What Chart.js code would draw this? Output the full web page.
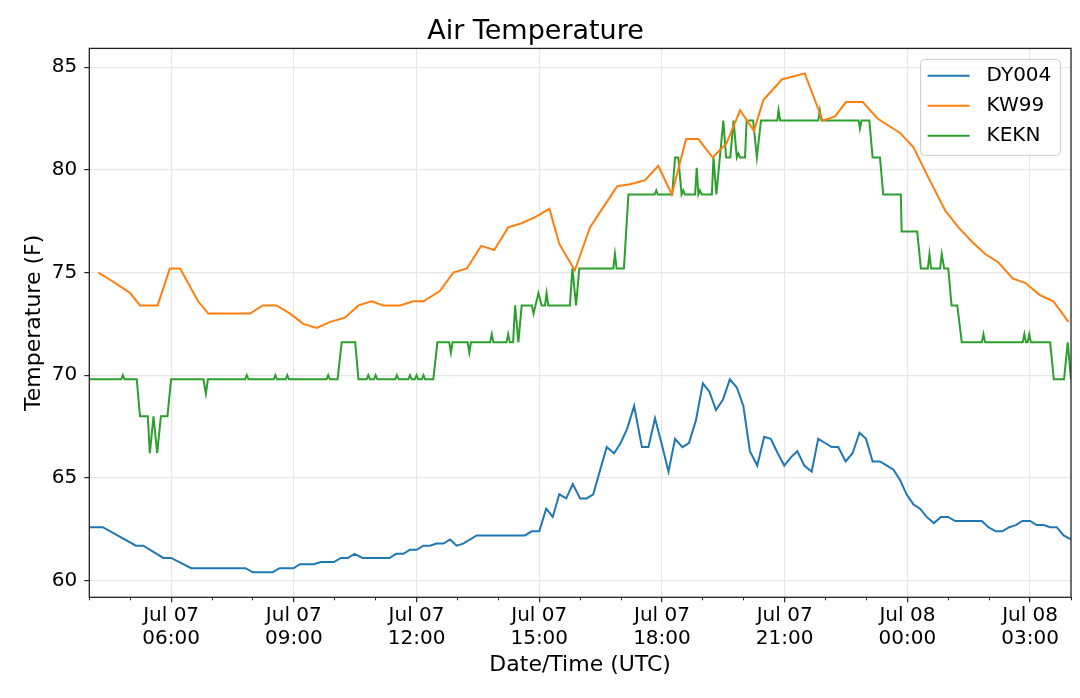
<!DOCTYPE html>
<html>
<head>
<meta charset="utf-8">
<title>Air Temperature</title>
<script src="https://cdn.jsdelivr.net/npm/chart.js@4.4.1/dist/chart.umd.min.js"></script>
<style>
  html, body { margin: 0; padding: 0; background: #fff; }
  #wrap { width: 1080px; height: 698px; position: relative; }
</style>
</head>
<body>
<div id="wrap"><canvas id="chart"></canvas></div>
<script>
/* ===== Air Temperature: DY004 / KW99 / KEKN ===== */

// time = hours since Jul 07 00:00 UTC, temperature in F
const dyHours = [4.0, 4.33, 5.14, 5.32, 5.81, 6.0, 6.49, 7.82, 8.0, 8.48, 8.65, 8.99, 9.15, 9.49, 9.66, 9.98,
  10.15, 10.32, 10.48, 10.68, 11.34, 11.5, 11.68, 11.84, 12.0, 12.17, 12.33, 12.49, 12.66, 12.82, 12.98, 13.14,
  13.47, 14.65, 14.82, 15.0, 15.17, 15.33, 15.49, 15.66, 15.82, 16.0, 16.16, 16.32, 16.49, 16.65, 16.83, 16.99,
  17.15, 17.32, 17.51, 17.67, 17.83, 18.0, 18.16, 18.32, 18.5, 18.66, 18.83, 19.0, 19.16, 19.32, 19.49, 19.66,
  19.83, 19.99, 20.15, 20.33, 20.5, 20.66, 20.83, 20.99, 21.15, 21.31, 21.48, 21.66, 21.82, 21.99, 22.15, 22.31,
  22.49, 22.66, 22.83, 22.99, 23.15, 23.33, 23.5, 23.66, 23.82, 23.98, 24.15, 24.31, 24.47, 24.65, 24.82, 24.99,
  25.17, 25.82, 25.98, 26.16, 26.32, 26.49, 26.65, 26.81, 27.0, 27.16, 27.33, 27.49, 27.65, 27.82, 28.0];
const dyTemps = [62.6, 62.6, 61.7, 61.7, 61.1, 61.1, 60.6, 60.6, 60.4, 60.4, 60.6, 60.6, 60.8, 60.8, 60.9, 60.9,
  61.1, 61.1, 61.3, 61.1, 61.1, 61.3, 61.3, 61.5, 61.5, 61.7, 61.7, 61.8, 61.8, 62.0, 61.7, 61.8,
  62.2, 62.2, 62.4, 62.4, 63.5, 63.1, 64.2, 64.0, 64.7, 64.0, 64.0, 64.2, 65.4, 66.5, 66.2, 66.7,
  67.4, 68.5, 66.5, 66.5, 67.9, 66.6, 65.3, 66.9, 66.5, 66.7, 67.8, 69.6, 69.2, 68.3, 68.8, 69.8,
  69.4, 68.5, 66.3, 65.6, 67.0, 66.9, 66.2, 65.6, 66.0, 66.3, 65.6, 65.3, 66.9, 66.7, 66.5, 66.5,
  65.8, 66.2, 67.2, 66.9, 65.8, 65.8, 65.6, 65.4, 64.9, 64.2, 63.7, 63.5, 63.1, 62.8, 63.1, 63.1,
  62.9, 62.9, 62.6, 62.4, 62.4, 62.6, 62.7, 62.9, 62.9, 62.7, 62.7, 62.6, 62.6, 62.2, 62.0];

const kwHours = [4.22, 4.55, 5.0, 5.24, 5.67, 5.97, 6.22, 6.66, 6.91, 7.93, 8.24, 8.58, 8.91, 9.23, 9.56, 9.89,
  10.25, 10.58, 10.9, 11.19, 11.6, 11.92, 12.17, 12.57, 12.9, 13.23, 13.58, 13.9, 14.24, 14.57, 14.9, 15.25,
  15.49, 15.87, 16.24, 16.57, 16.91, 17.22, 17.59, 17.91, 18.24, 18.59, 18.89, 19.24, 19.58, 19.91, 20.25, 20.48,
  20.93, 21.49, 21.93, 22.23, 22.5, 22.91, 23.27, 23.82, 24.15, 24.52, 24.93, 25.25, 25.58, 25.9, 26.22, 26.58,
  26.88, 27.24, 27.57, 27.94];
const kwTemps = [75.0, 74.6, 74.0, 73.4, 73.4, 75.2, 75.2, 73.6, 73.0, 73.0, 73.4, 73.4, 73.0, 72.5, 72.3, 72.6,
  72.8, 73.4, 73.6, 73.4, 73.4, 73.6, 73.6, 74.1, 75.0, 75.2, 76.3, 76.1, 77.2, 77.4, 77.7, 78.1,
  76.4, 75.1, 77.2, 78.2, 79.2, 79.3, 79.5, 80.2, 78.8, 81.5, 81.5, 80.6, 81.3, 82.9, 81.9, 83.4,
  84.4, 84.7, 82.4, 82.6, 83.3, 83.3, 82.5, 81.8, 81.1, 79.6, 78.0, 77.2, 76.5, 75.9, 75.5, 74.7,
  74.5, 73.9, 73.6, 72.6];

const keknHours = [4.0, 4.78, 4.82, 4.86, 5.16, 5.24, 5.43, 5.48, 5.57, 5.66, 5.75, 5.91, 6.0, 6.79, 6.85, 6.9,
  7.81, 7.85, 7.89, 8.51, 8.55, 8.59, 8.8, 8.84, 8.88, 9.8, 9.84, 9.88, 10.07, 10.17, 10.5, 10.58,
  10.78, 10.82, 10.86, 10.96, 11.0, 11.04, 11.48, 11.52, 11.56, 11.8, 11.84, 11.88, 11.96, 12.0, 12.04, 12.13,
  12.17, 12.21, 12.41, 12.51, 12.8, 12.84, 12.88, 13.25, 13.29, 13.33, 13.8, 13.84, 13.88, 14.2, 14.24, 14.28,
  14.36, 14.41, 14.49, 14.57, 14.82, 14.86, 14.98, 15.06, 15.14, 15.18, 15.22, 15.75, 15.81, 15.9, 15.98, 16.81,
  16.85, 16.89, 17.07, 17.18, 17.82, 17.86, 17.9, 18.25, 18.32, 18.4, 18.48, 18.52, 18.56, 18.81, 18.85, 18.89,
  18.93, 18.97, 19.22, 19.26, 19.33, 19.5, 19.57, 19.67, 19.75, 19.83, 19.87, 19.91, 20.03, 20.07, 20.23, 20.32,
  20.42, 20.82, 20.85, 20.89, 21.82, 21.86, 21.9, 22.81, 22.84, 22.88, 23.07, 23.15, 23.33, 23.41, 23.84, 23.86,
  24.24, 24.33, 24.5, 24.54, 24.58, 24.8, 24.84, 24.9, 25.0, 25.08, 25.22, 25.33, 25.82, 25.86, 25.9, 26.82,
  26.86, 26.9, 26.94, 26.98, 27.02, 27.49, 27.58, 27.83, 27.92, 28.0];
const keknTemps = [69.8, 69.8, 70.0, 69.8, 69.8, 68.0, 68.0, 66.2, 68.0, 66.2, 68.0, 68.0, 69.8, 69.8, 69.1, 69.8,
  69.8, 70.0, 69.8, 69.8, 70.0, 69.8, 69.8, 70.0, 69.8, 69.8, 70.0, 69.8, 69.8, 71.6, 71.6, 69.8,
  69.8, 70.0, 69.8, 69.8, 70.0, 69.8, 69.8, 70.0, 69.8, 69.8, 70.0, 69.8, 69.8, 70.0, 69.8, 69.8,
  70.0, 69.8, 69.8, 71.6, 71.6, 71.1, 71.6, 71.6, 71.1, 71.6, 71.6, 72.0, 71.6, 71.6, 72.0, 71.6,
  71.6, 73.4, 71.6, 73.4, 73.4, 73.0, 74.0, 73.4, 73.4, 74.0, 73.4, 73.4, 75.2, 73.4, 75.2, 75.2,
  75.9, 75.2, 75.2, 78.8, 78.8, 79.0, 78.8, 78.8, 80.6, 80.6, 78.8, 79.0, 78.8, 78.8, 80.1, 78.8,
  79.0, 78.8, 78.8, 80.6, 78.8, 82.4, 80.6, 80.6, 82.4, 80.6, 80.8, 80.6, 80.6, 82.4, 82.4, 80.6,
  82.4, 82.4, 82.9, 82.4, 82.4, 82.9, 82.4, 82.4, 82.0, 82.4, 82.4, 80.6, 80.6, 78.8, 78.8, 77.0,
  77.0, 75.2, 75.2, 75.9, 75.2, 75.2, 75.9, 75.2, 75.2, 73.4, 73.4, 71.6, 71.6, 72.0, 71.6, 71.6,
  72.0, 71.6, 71.6, 72.0, 71.6, 71.6, 69.8, 69.8, 71.6, 69.8];

const stations = ["DY004", "KW99", "KEKN"];
const stationColors = ["#1f77b4", "#ff7f0e", "#2ca02c"];

const hourTicks = [6, 9, 12, 15, 18, 21, 24, 27];
const hourTickLabels = [["Jul 07", "06:00"], ["Jul 07", "09:00"], ["Jul 07", "12:00"], ["Jul 07", "15:00"],
  ["Jul 07", "18:00"], ["Jul 07", "21:00"], ["Jul 08", "00:00"], ["Jul 08", "03:00"]];
const minorHours = [4, 5, 7, 8, 10, 11, 13, 14, 16, 17, 19, 20, 22, 23, 25, 26, 28];
const tempTicks = [60, 65, 70, 75, 80, 85];
const xMin = 4, xMax = 28;

// matplotlib style 5% margin on y
const allTemps = dyTemps.concat(kwTemps, keknTemps);
const tLo = Math.min(...allTemps), tHi = Math.max(...allTemps);
const yMin = tLo - (tHi - tLo) * 0.05, yMax = tHi + (tHi - tLo) * 0.05;

const FONT = "'DejaVu Sans', 'Liberation Sans', sans-serif";
Chart.defaults.font.family = FONT;
Chart.defaults.color = "#000";

const pairs = (hs, ts) => hs.map((h, i) => ({ x: h, y: ts[i] }));
const series = [pairs(dyHours, dyTemps), pairs(kwHours, kwTemps), pairs(keknHours, keknTemps)];

// frame round the plot (all four spines)
const frame = {
  id: "frame",
  afterDatasetsDraw(chart) {
    const { ctx, chartArea: a } = chart;
    ctx.save();
    ctx.strokeStyle = "#222"; ctx.lineWidth = 1.3;
    ctx.strokeRect(a.left, a.top, a.right - a.left, a.bottom - a.top);
    ctx.restore();
  }
};

// legend box inside the plot, top right
const boxLegend = {
  id: "boxLegend",
  afterDraw(chart) {
    const { ctx, chartArea: a } = chart;
    const sets = chart.data.datasets;
    ctx.save();
    ctx.font = "20px " + FONT;
    const textW = Math.max(...sets.map(d => ctx.measureText(d.label).width));
    const w = 8 + 42 + 17 + textW + 8, h = 96;
    const x = a.right - 10.7 - w, y = a.top + 11;
    ctx.beginPath(); ctx.roundRect(x, y, w, h, 4);
    ctx.fillStyle = "rgba(255,255,255,0.8)"; ctx.fill();
    ctx.strokeStyle = "#cccccc"; ctx.lineWidth = 1; ctx.stroke();
    sets.forEach((d, i) => {
      const cy = y + 16.4 + i * 30;
      ctx.beginPath(); ctx.moveTo(x + 7, cy); ctx.lineTo(x + 49, cy);
      ctx.strokeStyle = d.borderColor; ctx.lineWidth = 2; ctx.stroke();
      ctx.fillStyle = "#000"; ctx.textBaseline = "middle"; ctx.textAlign = "left";
      ctx.fillText(d.label, x + 66, cy);
    });
    ctx.restore();
  }
};

new Chart(document.getElementById("chart"), {
  type: "line",
  data: {
    datasets: stations.map((s, i) => ({
      label: s, data: series[i], borderColor: stationColors[i], backgroundColor: stationColors[i],
      borderWidth: 2, pointRadius: 0, tension: 0, fill: false, xAxisID: "x", yAxisID: "y"
    }))
  },
  options: {
    responsive: true, maintainAspectRatio: false, animation: false, devicePixelRatio: 1,
    layout: { padding: { left: 0, right: 9, top: 0, bottom: 0 } },
    plugins: {
      legend: { display: false },
      tooltip: { enabled: false },
      title: { display: true, text: "Air Temperature", color: "#000",
        font: { size: 27, weight: "normal" }, padding: { top: 16, bottom: 0 } }
    },
    scales: {
      x: {
        type: "linear", position: "bottom", weight: 1, min: xMin, max: xMax,
        afterBuildTicks: s => { s.ticks = hourTicks.map(v => ({ value: v })); },
        afterFit: s => { s.height = 100.7; },
        ticks: { autoSkip: false, maxRotation: 0, padding: 2,
          font: { size: 20, lineHeight: 1.15 },
          callback: v => hourTickLabels[hourTicks.indexOf(v)] },
        grid: { color: "#e6e6e6", lineWidth: 1.2, tickColor: "#222", tickLength: 5, tickWidth: 1.2 },
        border: { display: false },
        title: { display: true, text: "Date/Time (UTC)", font: { size: 22 }, padding: { top: 0, bottom: 20 } }
      },
      xMinor: {
        type: "linear", position: "bottom", weight: 0, min: xMin, max: xMax,
        afterBuildTicks: s => { s.ticks = minorHours.map(v => ({ value: v })); },
        afterFit: s => { s.height = 0; },
        ticks: { display: false },
        grid: { drawOnChartArea: false, tickColor: "#222", tickLength: 3, tickWidth: 1 },
        border: { display: false }
      },
      y: {
        type: "linear", position: "left", min: yMin, max: yMax,
        afterBuildTicks: s => { s.ticks = tempTicks.map(v => ({ value: v })); },
        afterFit: s => { s.width = 89.3; },
        ticks: { padding: 7, font: { size: 20 } },
        grid: { color: "#e6e6e6", lineWidth: 1.2, tickColor: "#222", tickLength: 5, tickWidth: 1.2 },
        border: { display: false },
        title: { display: true, text: "Temperature (F)", font: { size: 22 }, padding: { top: 21, bottom: 0 } }
      }
    }
  },
  plugins: [frame, boxLegend]
});
</script>
</body>
</html>
